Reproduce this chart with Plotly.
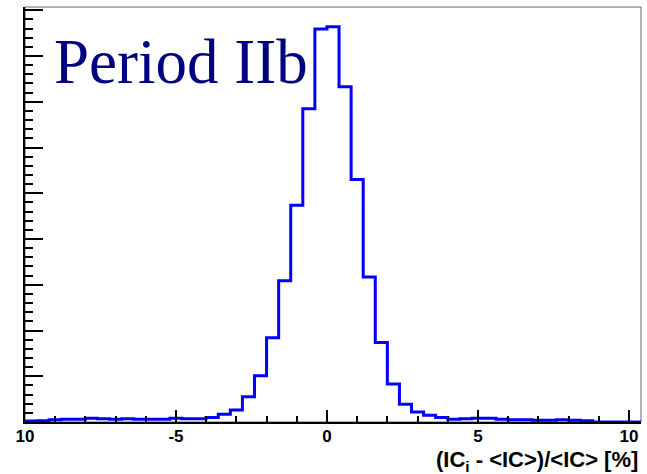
import plotly.graph_objects as go

# Histogram: bin width 0.4 starting at -10 (51 bins, up to 10.4)
bin_start = -10.0
bin_width = 0.4
counts = [
    0.02, 0.03, 0.05, 0.06, 0.06, 0.08, 0.07, 0.06, 0.07, 0.06,
    0.06, 0.06, 0.08, 0.07, 0.07, 0.10, 0.17, 0.26, 0.55, 1.01,
    1.84, 3.09, 4.74, 6.85, 8.59, 8.64, 7.33, 5.30, 3.17, 1.74,
    0.83, 0.39, 0.22, 0.15, 0.10, 0.06, 0.07, 0.08, 0.08, 0.06,
    0.05, 0.05, 0.04, 0.04, 0.05, 0.04, 0.03, 0.00, 0.00, 0.00,
    0.00,
]
x_tickvals = [-10, -5, 0, 5, 10]
x_ticktext = ["10", "-5", "0", "5", "10"]
x_title = "(IC<sub>i</sub>&nbsp;- &lt;IC&gt;)/&lt;IC&gt; [%]"
label = "Period IIb"

edges = [bin_start + i * bin_width for i in range(len(counts) + 1)]
xs = [edges[0]] + edges
ys = [0] + counts + [0]

W, H = 647, 474
ml, mr, mt, mb = 25, 6, 7, 52
ph = H - mt - mb

ymax = max(counts) * 1.05

fig = go.Figure()
fig.add_trace(go.Scatter(
    x=xs, y=ys, mode="lines", line=dict(color="#0000ff", width=3, shape="hv"),
    hoverinfo="skip", showlegend=False,
))

fig.add_shape(type="rect", xref="paper", yref="paper", x0=0, y0=0, x1=1, y1=1,
              line=dict(color="#666666", width=1), layer="below")

tickfont = dict(family="Liberation Sans, Arial, sans-serif", size=17, color="black", weight="bold")

fig.update_xaxes(
    range=[bin_start, edges[-1]], tickvals=x_tickvals, ticktext=x_ticktext,
    ticks="inside", ticklen=12, tickwidth=2, tickcolor="black", ticklabelstandoff=-2,
    minor=dict(dtick=1, ticks="inside", ticklen=6, tickwidth=2, tickcolor="black", showgrid=False),
    showline=True, linecolor="black", linewidth=2, showgrid=False, zeroline=False,
    tickfont=tickfont,
)
fig.update_yaxes(
    range=[0, ymax], dtick=1, tick0=0, showticklabels=False,
    ticks="inside", ticklen=18, tickwidth=2, tickcolor="black",
    minor=dict(dtick=0.2, ticks="inside", ticklen=8, tickwidth=2, tickcolor="black", showgrid=False),
    showline=True, linecolor="black", linewidth=2, showgrid=False, zeroline=False,
)

fig.add_annotation(
    text=x_title, xref="paper", yref="paper", x=1.0, xanchor="right", xshift=-1,
    y=-(461 - (H - mb)) / ph, yanchor="middle", showarrow=False,
    font=dict(family="Liberation Sans, Arial, sans-serif", size=22, color="black", weight="bold"),
)
fig.add_annotation(
    text=label, xref="paper", yref="paper", x=(52 - ml) / (W - ml - mr), xanchor="left",
    y=((H - mb) - 62) / ph, yanchor="middle", showarrow=False,
    font=dict(family="Liberation Serif, Times New Roman, serif", size=63, color="#000080"),
)

fig.update_layout(
    width=W, height=H, margin=dict(l=ml, r=mr, t=mt, b=mb),
    paper_bgcolor="white", plot_bgcolor="white",
)

fig.write_html("out.html")
